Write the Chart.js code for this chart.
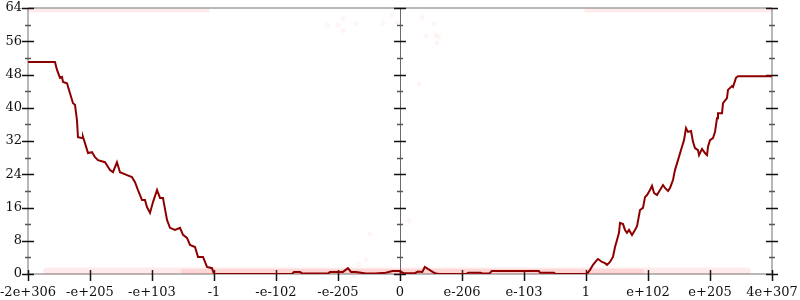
<!DOCTYPE html>
<html>
<head>
<meta charset="utf-8">
<style>
  html, body { margin: 0; padding: 0; background: #fff; }
  #wrap { width: 800px; height: 300px; }
</style>
<script src="https://cdn.jsdelivr.net/npm/chart.js@4.4.1/dist/chart.umd.min.js"></script>
</head>
<body>
<div id="wrap"><canvas id="chart" width="800" height="300"></canvas></div>
<script>
// tick labels along the bottom, one per unit step
const xTickLabels = ['-2e+306', '-e+205', '-e+103', '-1', '-e-102', '-e-205', '0',
  'e-206', 'e-103', '1', 'e+102', 'e+205', '4e+307'];
const yMajor = [0, 8, 16, 24, 32, 40, 48, 56, 64];
const yMinor = [4, 12, 20, 28, 36, 44, 52, 60];
const midAxisX = 6;

// main curve
const curveX = [0, 0.435, 0.468, 0.516, 0.548, 0.565, 0.629, 0.677, 0.726, 0.758, 0.790, 0.806,
  0.871, 0.887, 0.919, 0.968, 1.032, 1.081, 1.129, 1.242, 1.323, 1.371, 1.435, 1.484, 1.597,
  1.677, 1.726, 1.774, 1.839, 1.887, 1.919, 1.968, 2.016, 2.081, 2.129, 2.177, 2.242, 2.290,
  2.371, 2.452, 2.500, 2.565, 2.613, 2.694, 2.742, 2.823, 2.887, 2.968, 3.0,
  4.26, 4.29, 4.39, 4.42, 4.84, 4.87, 5.08, 5.16, 5.21, 5.29, 5.45, 5.60, 5.77, 5.88, 5.99,
  6.06, 6.24, 6.29, 6.36, 6.40, 6.55, 6.58, 6.63, 7.07, 7.10, 7.30, 7.34, 7.44, 7.48, 8.24,
  8.26, 8.48, 8.51, 9.016,
  9.065, 9.113, 9.177, 9.194, 9.258, 9.306, 9.339, 9.387, 9.435, 9.468, 9.5, 9.532, 9.548,
  9.597, 9.629, 9.661, 9.694, 9.742, 9.79, 9.823, 9.871, 9.919, 9.952, 9.984, 10.032, 10.065,
  10.097, 10.145, 10.194, 10.242, 10.274, 10.323, 10.355, 10.403, 10.435, 10.484, 10.548,
  10.581, 10.613, 10.645, 10.694, 10.726, 10.758, 10.806, 10.823, 10.871, 10.919, 10.952,
  10.968, 11.0, 11.048, 11.081, 11.113, 11.129, 11.194, 11.210, 11.274, 11.290, 11.355,
  11.371, 11.419, 11.452, 12];
const curveY = [51, 51, 49.1, 47.2, 47.4, 46.2, 45.9, 43.5, 41.1, 40.7, 37.0, 32.9,
  32.7, 33.0, 31.5, 29.1, 29.3, 28.1, 27.4, 26.9, 25.0, 24.5, 26.9, 24.5, 23.8,
  23.3, 22.1, 20.2, 17.8, 17.8, 16.1, 14.7, 17.3, 20.2, 18.3, 18.3, 13.0, 11.1,
  10.6, 11.1, 9.4, 8.7, 7.0, 6.5, 4.1, 4.1, 1.7, 1.4, 0,
  0, 0.5, 0.5, 0.1, 0.1, 0.5, 0.5, 1.4, 0.5, 0.5, 0.1, 0.1, 0.3, 0.7, 0.7,
  0.2, 0.2, 0.6, 0.5, 1.7, 0.3, 0.1, 0, 0, 0.3, 0.3, 0.1, 0.1, 0.7, 0.7,
  0.3, 0.3, 0, 0,
  1.0, 2.2, 3.4, 3.6, 2.9, 2.6, 2.2, 2.9, 4.1, 6.5, 8.2, 9.9, 12.3,
  12.0, 10.6, 9.9, 10.6, 9.4, 10.6, 11.5, 15.4, 15.9, 18.5, 19.0, 20.2, 21.2,
  19.5, 19.0, 20.2, 21.4, 20.7, 20.0, 20.7, 22.6, 25.0, 27.4, 30.6,
  32.2, 35.1, 34.2, 34.4, 31.8, 30.3, 29.8, 28.6, 30.1, 29.1, 28.6,
  30.6, 32.2, 32.7, 34.2, 37.5, 38.7, 38.7, 41.1, 42.3, 44.3, 45.2,
  45.0, 47.2, 47.6, 47.6];

// faint sample clouds hugging the bottom and top edges
const lowBandX = [0.3, 11.6];
const lowBandY = [0.7, 0.7];
const lowDenseX = [2.5, 9.9];
const lowDenseY = [0.6, 0.6];
const topLeftX = [0, 2.9];
const topRightX = [9.0, 12];
const topBandY = [63.4, 63.4];

// stray faint samples in the middle
const strayX = [4.823, 5.0, 5.081, 5.081, 5.29, 5.726, 5.871, 5.952, 6.355, 6.548, 6.419,
  6.581, 6.629, 6.597, 6.306, 6.145, 5.516, 5.452, 5.339];
const strayY = [59.9, 59.9, 61.4, 58.5, 60.2, 60.4, 62.3, 60.4, 61.8, 60.2, 57.3,
  57.5, 57.0, 55.6, 45.7, 12.8, 9.6, 3.4, 2.2];

const zip = (xs, ys) => xs.map((x, i) => ({ x: x, y: ys[i] }));

const serif = { family: '"DejaVu Serif", "Liberation Serif", serif', size: 13 };

const band = (pts, width, colour, order) => ({
  data: pts,
  borderColor: colour,
  borderWidth: width,
  borderCapStyle: 'round',
  pointRadius: 0,
  order: order
});

// no extra room for label overflow, the frame sits at fixed margins
const noPad = s => { s.paddingLeft = 0; s.paddingRight = 0; s.paddingTop = 0; s.paddingBottom = 0; };

// frame, ticks and the middle axis, drawn with the chart's own scales
const framePlugin = {
  id: 'frame',
  beforeDatasetsDraw(chart) {
    const { ctx, chartArea: a, scales } = chart;
    const xs = scales.x, ys = scales.y;
    ctx.save();
    ctx.strokeStyle = '#b8b8b8';
    ctx.lineWidth = 2;
    ctx.beginPath();
    ctx.moveTo(a.left, a.top); ctx.lineTo(a.right, a.top);
    ctx.moveTo(a.left, a.bottom); ctx.lineTo(a.right, a.bottom);
    ctx.moveTo(a.left, a.top); ctx.lineTo(a.left, a.bottom);
    ctx.moveTo(a.right, a.top); ctx.lineTo(a.right, a.bottom);
    ctx.stroke();

    const mx = xs.getPixelForValue(midAxisX);
    ctx.strokeStyle = '#6a6a6a';
    ctx.lineWidth = 1;
    ctx.beginPath();
    ctx.moveTo(mx + 0.5, a.top); ctx.lineTo(mx + 0.5, a.bottom);
    ctx.stroke();

    const edges = [a.left, a.right, mx];
    ctx.lineWidth = 1.5;
    for (const v of yMajor) {
      const py = Math.round(ys.getPixelForValue(v)) + 0.5;
      ctx.strokeStyle = '#111';
      ctx.beginPath();
      edges.forEach(ex => { ctx.moveTo(ex - 6, py); ctx.lineTo(ex + 6, py); });
      ctx.stroke();
    }
    for (const v of yMinor) {
      const py = Math.round(ys.getPixelForValue(v)) + 0.5;
      ctx.strokeStyle = '#555';
      ctx.beginPath();
      edges.forEach(ex => { ctx.moveTo(ex - 3, py); ctx.lineTo(ex + 3, py); });
      ctx.stroke();
    }
    ctx.strokeStyle = '#111';
    ctx.beginPath();
    xTickLabels.forEach((_, i) => {
      const px = Math.round(xs.getPixelForValue(i)) + 0.5;
      ctx.moveTo(px, a.bottom - 4); ctx.lineTo(px, a.bottom + 7);
    });
    ctx.stroke();
    ctx.restore();
  }
};

new Chart(document.getElementById('chart'), {
  type: 'line',
  data: {
    datasets: [
      {
        data: zip(curveX, curveY),
        borderColor: '#8e0000',
        borderWidth: 2,
        pointRadius: 0,
        tension: 0,
        order: 0
      },
      {
        type: 'scatter',
        data: zip(strayX, strayY),
        backgroundColor: 'rgba(255, 60, 60, 0.05)',
        borderWidth: 0,
        pointRadius: 2.5,
        order: 1
      },
      band(zip(lowBandX, lowBandY), 7, 'rgba(255, 70, 70, 0.11)', 2),
      band(zip(lowDenseX, lowDenseY), 5, 'rgba(255, 40, 40, 0.11)', 3),
      band(zip(topLeftX, topBandY), 4, 'rgba(255, 60, 60, 0.09)', 4),
      band(zip(topRightX, topBandY), 4, 'rgba(255, 60, 60, 0.09)', 5)
    ]
  },
  options: {
    responsive: false,
    animation: false,
    events: [],
    layout: { padding: { top: 8, right: 28, left: 0, bottom: 0 } },
    plugins: { legend: { display: false }, tooltip: { enabled: false } },
    scales: {
      x: {
        type: 'linear',
        min: 0,
        max: 12,
        afterBuildTicks: s => { s.ticks = xTickLabels.map((_, i) => ({ value: i })); },
        afterFit: s => { s.height = 26; noPad(s); },
        grid: { display: false, drawTicks: false },
        border: { display: false },
        ticks: {
          autoSkip: false,
          maxRotation: 0,
          padding: 11,
          color: '#111',
          font: serif,
          callback: v => xTickLabels[v]
        }
      },
      y: {
        min: 0,
        max: 64,
        afterBuildTicks: s => { s.ticks = yMajor.map(v => ({ value: v })); },
        afterFit: s => { s.width = 28; noPad(s); },
        grid: { display: false, drawTicks: false },
        border: { display: false },
        ticks: {
          padding: 6,
          color: '#111',
          font: serif,
          callback: v => String(v)
        }
      }
    }
  },
  plugins: [framePlugin]
});
</script>
</body>
</html>
